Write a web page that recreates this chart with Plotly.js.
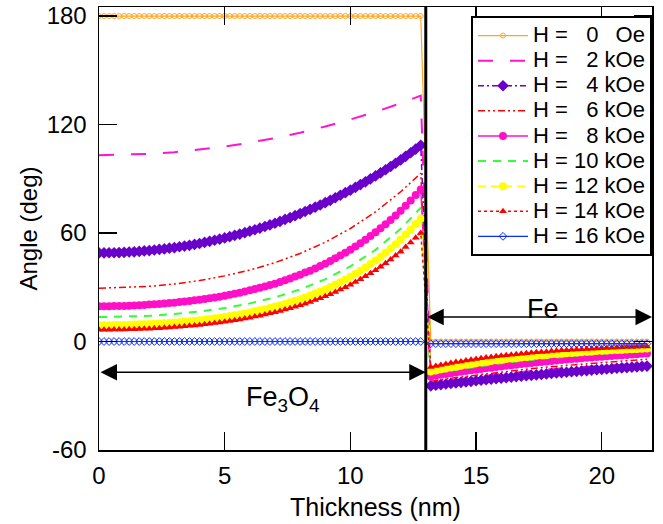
<!DOCTYPE html>
<html>
<head>
<meta charset="utf-8">
<script src="https://cdn.plot.ly/plotly-3.0.1.min.js"></script>
<style>html,body{margin:0;padding:0;background:#fff;}#chart{width:663px;height:524px;}</style>
</head>
<body>
<div id="chart"></div>
<script>
// Thickness grids (nm): Fe3O4 side and Fe side
var thicknessL = [0,0.2,0.4,0.6,0.8,1,1.2,1.4,1.6,1.8,2,2.2,2.4,2.6,2.8,3,3.2,3.4,3.6,3.8,4,4.2,4.4,4.6,4.8,5,5.2,5.4,5.6,5.8,6,6.2,6.4,6.6,6.8,7,7.2,7.4,7.6,7.8,8,8.2,8.4,8.6,8.8,9,9.2,9.4,9.6,9.8,10,10.2,10.4,10.6,10.8,11,11.2,11.4,11.6,11.8,12,12.2,12.4,12.6,12.8];
var thicknessR = [13.2,13.4,13.6,13.8,14,14.2,14.4,14.6,14.8,15,15.2,15.4,15.6,15.8,16,16.2,16.4,16.6,16.8,17,17.2,17.4,17.6,17.8,18,18.2,18.4,18.6,18.8,19,19.2,19.4,19.6,19.8,20,20.2,20.4,20.6,20.8,21,21.2,21.4,21.6,21.8];
var thicknessCoarseL = [0,1,2,3,4,5,6,7,8,9,10,11,12,12.8];
var thicknessCoarseR = [13.2,14,15,16,17,18,19,20,21,21.8];

// Angles (deg)
var angle0L = [180,180,180,180,180,180,180,180,180,180,
  180,180,180,180,180,180,180,180,180,180,
  180,180,180,180,180,180,180,180,180,180,
  180,180,180,180,180,180,180,180,180,180,
  180,180,180,180,180,180,180,180,180,180,
  180,180,180,180,180,180,180,180,180,180,
  180,180,180,180,180];
var angle0R = [0,0,0,0,0,0,0,0,0,0,0,0,0,0,0,0,0,0,0,0,0,0,0,0,0,0,0,0,0,0,0,0,0,0,0,0,0,0,0,0,0,0,0,0];

var angle2L = [103.0,103.2,103.8,104.7,106.1,107.8,110.0,112.5,115.5,118.9,122.8,127.0,131.8,136.0];
var angle2R = [-23.5,-21.6,-19.6,-17.9,-16.5,-15.3,-14.3,-13.4,-12.7,-12.2];

var angle4L = [49.0,49.0,49.1,49.1,49.2,49.3,49.5,49.6,49.8,50.1,
  50.3,50.6,50.9,51.2,51.6,51.9,52.4,52.8,53.2,53.7,
  54.2,54.8,55.4,56.0,56.6,57.3,58.0,58.7,59.4,60.2,
  61.0,61.8,62.7,63.6,64.5,65.4,66.4,67.5,68.5,69.6,
  70.7,71.9,73.1,74.3,75.5,76.8,78.1,79.5,80.9,82.3,
  83.7,85.2,86.8,88.3,90.0,91.6,93.3,95.0,96.8,98.6,
  100.4,102.4,104.4,106.4,108.5];
var angle4R = [-24.5,-24.2,-23.8,-23.5,-23.2,-22.9,-22.6,-22.3,-22.0,-21.7,-21.4,-21.1,-20.8,-20.5,-20.3,-20.0,-19.7,-19.4,-19.2,-18.9,-18.7,-18.4,-18.2,-17.9,-17.7,-17.4,-17.2,-17.0,-16.7,-16.5,-16.3,-16.1,-15.8,-15.6,-15.4,-15.2,-15.0,-14.8,-14.6,-14.4,-14.2,-14.0,-13.8,-13.6];

var angle6L = [29.5,29.8,30.5,31.8,33.7,36.3,39.5,43.6,48.7,54.9,62.5,71.7,82.8,93.0];
var angle6R = [-22.0,-20.3,-18.5,-16.8,-15.3,-13.9,-12.7,-11.5,-10.6,-9.8];

var angle8L = [19.5,19.5,19.5,19.6,19.6,19.7,19.8,19.9,20.1,20.2,
  20.4,20.6,20.8,21.0,21.3,21.5,21.8,22.1,22.4,22.8,
  23.1,23.5,23.9,24.4,24.8,25.3,25.8,26.4,27.0,27.6,
  28.3,29.0,29.7,30.4,31.2,32.0,32.9,33.9,34.8,35.9,
  36.9,38.1,39.2,40.4,41.7,43.0,44.5,46.0,47.5,49.1,
  50.7,52.5,54.4,56.3,58.3,60.4,62.6,64.9,67.2,69.7,
  72.3,75.1,78.0,81.0,84.0];
var angle8R = [-19.3,-18.8,-18.4,-18.0,-17.5,-17.1,-16.7,-16.3,-15.9,-15.6,-15.2,-14.8,-14.5,-14.1,-13.8,-13.4,-13.1,-12.8,-12.5,-12.2,-11.9,-11.6,-11.3,-11.0,-10.8,-10.5,-10.2,-10.0,-9.7,-9.5,-9.3,-9.0,-8.8,-8.6,-8.4,-8.2,-8.0,-7.8,-7.6,-7.4,-7.2,-7.0,-6.8,-6.6];

var angle10L = [13.5,13.7,14.2,15.2,16.6,18.5,21.1,24.4,28.8,34.4,41.6,50.7,62.3,74.0];
var angle10R = [-18.0,-16.0,-13.8,-12.0,-10.4,-9.0,-7.8,-6.8,-5.9,-5.3];

var angle12L = [9.0,9.0,9.0,9.1,9.1,9.2,9.3,9.4,9.5,9.6,
  9.7,9.8,10.0,10.1,10.3,10.5,10.7,11.0,11.2,11.5,
  11.8,12.1,12.5,12.8,13.2,13.6,14.1,14.5,15.0,15.5,
  16.1,16.7,17.3,17.9,18.6,19.3,20.1,20.8,21.7,22.5,
  23.4,24.4,25.4,26.5,27.6,28.8,30.1,31.4,32.8,34.3,
  35.8,37.5,39.2,41.0,42.9,44.8,46.9,49.1,51.4,53.8,
  56.4,59.2,62.0,65.0,68.0];
var angle12R = [-16.6,-16.0,-15.4,-14.9,-14.4,-13.9,-13.4,-12.9,-12.5,-12.0,-11.6,-11.2,-10.8,-10.4,-10.1,-9.7,-9.4,-9.1,-8.8,-8.5,-8.2,-7.9,-7.6,-7.4,-7.1,-6.9,-6.7,-6.5,-6.3,-6.1,-5.9,-5.7,-5.5,-5.3,-5.1,-5.0,-4.8,-4.7,-4.5,-4.4,-4.3,-4.1,-4.0,-3.9];

var angle14L = [6.5,6.5,6.5,6.6,6.6,6.7,6.8,6.8,6.9,7.0,
  7.1,7.3,7.4,7.6,7.8,8.0,8.2,8.4,8.7,8.9,
  9.2,9.5,9.8,10.2,10.5,10.9,11.3,11.8,12.2,12.7,
  13.2,13.8,14.3,14.9,15.6,16.2,16.9,17.7,18.4,19.2,
  20.0,20.9,21.9,22.9,23.9,25.0,26.2,27.4,28.7,30.0,
  31.4,32.9,34.5,36.1,37.7,39.4,41.3,43.3,45.3,47.5,
  49.7,52.2,54.8,57.4,60.0];
var angle14R = [-14.1,-13.5,-13.0,-12.4,-11.9,-11.4,-11.0,-10.5,-10.1,-9.7,-9.3,-8.9,-8.6,-8.2,-7.9,-7.6,-7.3,-7.0,-6.8,-6.5,-6.2,-6.0,-5.8,-5.6,-5.3,-5.1,-4.9,-4.8,-4.6,-4.4,-4.3,-4.1,-4.0,-3.8,-3.7,-3.6,-3.4,-3.3,-3.2,-3.1,-3.0,-2.9,-2.8,-2.7];

var angle16L = [0,0,0,0,0,0,0,0,0,0,
  0,0,0,0,0,0,0,0,0,0,
  0,0,0,0,0,0,0,0,0,0,
  0,0,0,0,0,0,0,0,0,0,
  0,0,0,0,0,0,0,0,0,0,
  0,0,0,0,0,0,0,0,0,0,
  0,0,0,0,0];
var angle16R = [-1.2,-1.2,-1.2,-1.2,-1.2,-1.2,-1.2,-1.2,-1.2,-1.2,-1.2,-1.2,-1.2,-1.2,-1.2,-1.2,-1.2,-1.2,-1.2,-1.2,-1.2,-1.2,-1.2,-1.2,-1.2,-1.2,-1.2,-1.2,-1.2,-1.2,-1.2,-1.2,-1.2,-1.2,-1.2,-1.2,-1.2,-1.2,-1.2,-1.2,-1.2,-1.2,-1.2,-1.2];

// Legend labels: field value and unit (hidden glyphs keep the columns aligned)
var fieldValues = ['0', '2', '4', '6', '8', '10', '12', '14', '16'];
var fieldUnits = ['Oe', 'kOe', 'kOe', 'kOe', 'kOe', 'kOe', 'kOe', 'kOe', 'kOe'];
var yTickVals = [-60, 0, 60, 120, 180];
var yTickText = ['-60', '0', '60', '120', '180'];
var xTickVals = [0, 5, 10, 15, 20];

function hid(s){ return '<span style="fill-opacity:0">' + s + '</span>'; }
function legendName(i){
  var v = fieldValues[i], u = fieldUnits[i];
  var vs = v.length < 2 ? hid('1') + v : v;
  var us = u.length < 3 ? hid('k') + u : u;
  return '<span style="font-size:22px">H = ' + vs + ' ' + us + '</span>';
}
var xFine = thicknessL.concat(thicknessR);
var xCoarse = thicknessCoarseL.concat(thicknessCoarseR);

var traces = [
  {x: xFine, y: angle0L.concat(angle0R), name: legendName(0), mode: 'lines+markers',
   line: {color: '#ffa51f', width: 1.2},
   marker: {symbol: 'circle-open', size: 5, color: '#ffa51f', line: {width: 1}}},
  {x: xCoarse, y: angle2L.concat(angle2R), name: legendName(1), mode: 'lines',
   line: {color: '#ff14d2', width: 2, dash: '15px,17px'}},
  {x: xFine, y: angle4L.concat(angle4R), name: legendName(2), mode: 'lines+markers',
   line: {color: '#6a00cc', width: 1.5, dash: '6px,3px,2px,3px'},
   marker: {symbol: 'diamond', size: 9, color: '#6a00cc'}},
  {x: xCoarse, y: angle6L.concat(angle6R), name: legendName(3), mode: 'lines',
   line: {color: '#ff0000', width: 1.5, dash: '7px,3px,2px,3px,2px,3px'}},
  {x: xFine, y: angle8L.concat(angle8R), name: legendName(4), mode: 'lines+markers',
   line: {color: '#ff10c8', width: 1.5},
   marker: {symbol: 'circle', size: 8, color: '#ff10c8'}},
  {x: xCoarse, y: angle10L.concat(angle10R), name: legendName(5), mode: 'lines',
   line: {color: '#33ff33', width: 2, dash: '8px,7px'}},
  {x: xFine, y: angle12L.concat(angle12R), name: legendName(6), mode: 'lines+markers',
   line: {color: '#ffff00', width: 1.5, dash: '8px,5px'},
   marker: {symbol: 'circle', size: 8, color: '#ffff00'}},
  {x: xFine, y: angle14L.concat(angle14R), name: legendName(7), mode: 'lines+markers',
   line: {color: '#ff0000', width: 1.5, dash: '3px,3px'},
   marker: {symbol: 'triangle-up', size: 7, color: '#ff0000'}},
  {x: xFine, y: angle16L.concat(angle16R), name: legendName(8), mode: 'lines+markers',
   line: {color: '#0a2cff', width: 1.2},
   marker: {symbol: 'diamond-open', size: 6, color: '#0a2cff', line: {width: 1}}}
];

var fontFam = 'Liberation Sans, Arial, Helvetica, sans-serif';

var layout = {
  width: 663, height: 524,
  margin: {l: 99, r: 11, t: 7, b: 74},
  paper_bgcolor: '#fff', plot_bgcolor: '#fff',
  font: {family: fontFam, color: '#000', size: 24},
  showlegend: true,
  legend: {
    x: 1, xanchor: 'right', y: 0.9797, yanchor: 'top',
    bgcolor: '#fff', bordercolor: '#000', borderwidth: 2,
    font: {family: fontFam, size: 17, color: '#000'},
    itemwidth: 50
  },
  xaxis: {
    range: [0, 22], tickvals: xTickVals,
    ticks: 'inside', ticklen: 18, tickwidth: 1.5, tickcolor: '#000',
    showline: true, linewidth: 1.5, linecolor: '#000', mirror: 'ticks',
    showgrid: false, zeroline: false,
    tickfont: {family: fontFam, size: 24},
    ticklabelstandoff: 4,
    title: {text: 'Thickness (nm)', font: {family: fontFam, size: 25}, standoff: 10}
  },
  yaxis: {
    range: [-60, 185], tickvals: yTickVals, ticktext: yTickText,
    ticks: 'inside', ticklen: 18, tickwidth: 1.5, tickcolor: '#000',
    showline: true, linewidth: 1.5, linecolor: '#000', mirror: 'ticks',
    showgrid: false, zeroline: false,
    tickfont: {family: fontFam, size: 24},
    ticklabelstandoff: 6,
    title: {text: 'Angle (deg)', font: {family: fontFam, size: 24}, standoff: 2}
  },
  shapes: [
    {type: 'line', xref: 'x', yref: 'paper', x0: 13, x1: 13, y0: 0, y1: 1,
     line: {color: '#000', width: 3}, layer: 'above'}
  ],
  annotations: [
    {x: 13, y: -17, ax: 0, ay: -17, xref: 'x', yref: 'y', axref: 'x', ayref: 'y',
     text: '', showarrow: true, arrowside: 'end+start', arrowhead: 2, startarrowhead: 2,
     arrowsize: 2.2, startarrowsize: 2.2, arrowwidth: 1.5, arrowcolor: '#000', standoff: 0, startstandoff: 0},
    {x: 22, y: 13.5, ax: 13, ay: 13.5, xref: 'x', yref: 'y', axref: 'x', ayref: 'y',
     text: '', showarrow: true, arrowside: 'end+start', arrowhead: 2, startarrowhead: 2,
     arrowsize: 2.2, startarrowsize: 2.2, arrowwidth: 1.5, arrowcolor: '#000', standoff: 0, startstandoff: 0},
    {x: 7.3, y: -32, xref: 'x', yref: 'y', text: 'Fe<sub>3</sub>O<sub>4</sub>', showarrow: false,
     font: {family: fontFam, size: 27, color: '#000'}},
    {x: 17.65, y: 18, xref: 'x', yref: 'y', text: 'Fe', showarrow: false,
     font: {family: fontFam, size: 27, color: '#000'}}
  ]
};

Plotly.newPlot('chart', traces, layout, {staticPlot: true, displayModeBar: false});
</script>
</body>
</html>
